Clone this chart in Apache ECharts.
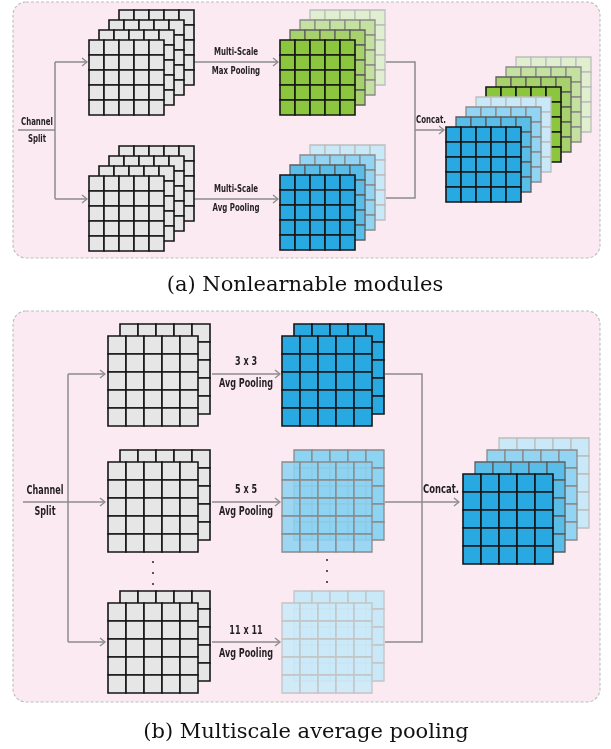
<!DOCTYPE html>
<html><head><meta charset="utf-8">
<script src="https://cdn.jsdelivr.net/npm/echarts@6/dist/echarts.min.js"></script>
<style>html,body{margin:0;padding:0;background:#fff}#c{width:611px;height:749px}</style>
</head><body><div id="c"></div>
<script>
// ---------------- data: texts and structure ----------------
const captions = ['(a) Nonlearnable modules', '(b) Multiscale average pooling'];
const splitLabel = ['Channel', 'Split'];
const concatLabel = 'Concat.';
const opLabelsA = [['Multi-Scale', 'Max Pooling'], ['Multi-Scale', 'Avg Pooling']];
const opLabelsB = [['3 x 3', 'Avg Pooling'], ['5 x 5', 'Avg Pooling'], ['11 x 11', 'Avg Pooling']];
const gridCells = 5;
// layers of each feature-map stack, front to back
const inputLayersA = ['gray', 'gray', 'gray', 'gray'];
const maxPoolLayersA = ['green1', 'green2', 'green3', 'green4'];
const avgPoolLayersA = ['blue1', 'blue2', 'blue3', 'blue4'];
const concatLayersA = avgPoolLayersA.concat(maxPoolLayersA);
const inputLayersB = ['gray', 'gray'];
const poolLayersB = [['blue1', 'blue1'], ['midF', 'mid'], ['paleF', 'pale']];
const concatLayersB = ['blue1', 'blue2', 'blue3', 'blue4'];

// ---------------- styles ----------------
const STY = {
  gray:   { fill: '#e6e6e6', stroke: '#161616', lw: 1.6 },
  green1: { fill: '#8cc63f', stroke: '#161616', lw: 1.6 },
  green2: { fill: '#a7d16c', stroke: '#5e5e5e', lw: 1.3 },
  green3: { fill: '#c5e1a2', stroke: '#8a8a8a', lw: 1.3 },
  green4: { fill: '#e1efd1', stroke: '#bdbdbd', lw: 1.3 },
  blue1:  { fill: '#28a9e1', stroke: '#161616', lw: 1.6 },
  blue2:  { fill: '#5abde8', stroke: '#5e5e5e', lw: 1.3 },
  blue3:  { fill: '#92d4f1', stroke: '#8a8a8a', lw: 1.3 },
  blue4:  { fill: '#c9e9f8', stroke: '#bdbdbd', lw: 1.3 },
  mid:    { fill: '#8ed3f1', stroke: '#8a8a8a', lw: 1.3 },
  midF:   { fill: 'rgba(142,211,241,0.88)', stroke: '#8a8a8a', lw: 1.3 },
  pale:   { fill: '#c9e9f8', stroke: '#c4c4c4', lw: 1.3 },
  paleF:  { fill: 'rgba(201,233,248,0.88)', stroke: '#c4c4c4', lw: 1.3 }
};
const LINE = '#8c8c8c';
const LABEL_FONT = "'Liberation Sans Narrow','DejaVu Sans Condensed',sans-serif";
const LABEL_SCALE_X = 0.78;
const CAPTION_FONT = "'DejaVu Serif',serif";

// ---------------- layout ----------------
const LAY = {
  panels: [[13, 2, 587, 256], [13, 311, 587, 391]],
  A: { cell: 15, off: 10, inputs: [[89, 40], [89, 176]], pools: [[280, 40], [280, 175]], concat: [446, 127] },
  B: { cell: 18, off: 12, inputs: [[108, 336], [108, 462], [108, 603]], pools: [[282, 336], [282, 462], [282, 603]], concat: [463, 474] },
  connectors: [
    // panel A
    { pts: [[55, 62], [55, 199]] },
    { pts: [[18, 130], [55, 130]] },
    { pts: [[55, 62], [87, 62]], arrow: true },
    { pts: [[55, 199], [87, 199]], arrow: true },
    { pts: [[194, 62], [278, 62]], arrow: true },
    { pts: [[194, 199], [278, 199]], arrow: true },
    { pts: [[386, 62], [415, 62], [415, 198], [386, 198]] },
    { pts: [[415, 130], [444, 130]], arrow: true },
    // panel B
    { pts: [[68, 374], [68, 642]] },
    { pts: [[68, 374], [105, 374]], arrow: true },
    { pts: [[23, 502], [105, 502]], arrow: true },
    { pts: [[68, 642], [105, 642]], arrow: true },
    { pts: [[212, 374], [280, 374]], arrow: true },
    { pts: [[212, 502], [280, 502]], arrow: true },
    { pts: [[212, 642], [280, 642]], arrow: true },
    { pts: [[385, 374], [422, 374], [422, 642], [385, 642]] },
    { pts: [[385, 502], [459, 502]], arrow: true }
  ],
  dots: [[153, 562], [153, 573], [153, 584], [327, 560], [327, 571], [327, 582]],
  textA: { split: [[37, 122], [37, 139]], ops: [[[236, 52], [236, 71]], [[236, 189], [236, 208]]], concat: [431, 120], size: 10 },
  textB: { split: [[45, 491], [45, 512]], ops: [[[246, 362], [246, 384]], [[246, 490], [246, 512]], [[246, 631], [246, 654]]], concat: [441, 490], size: 11.5 },
  captions: [[305, 286], [306, 733]], captionSize: 21
};

// ---------------- build marks ----------------
const layerList = [];
function addStack(origin, names, cell, off) {
  for (let k = names.length - 1; k >= 0; k--) {
    layerList.push({ x: origin[0] + k * off, y: origin[1] - k * off, cell: cell, style: names[k] });
  }
}
LAY.A.inputs.forEach(o => addStack(o, inputLayersA, LAY.A.cell, LAY.A.off));
addStack(LAY.A.pools[0], maxPoolLayersA, LAY.A.cell, LAY.A.off);
addStack(LAY.A.pools[1], avgPoolLayersA, LAY.A.cell, LAY.A.off);
addStack(LAY.A.concat, concatLayersA, LAY.A.cell, LAY.A.off);
LAY.B.inputs.forEach(o => addStack(o, inputLayersB, LAY.B.cell, LAY.B.off));
LAY.B.pools.forEach((o, i) => addStack(o, poolLayersB[i], LAY.B.cell, LAY.B.off));
addStack(LAY.B.concat, concatLayersB, LAY.B.cell, LAY.B.off);

const textList = [];
function addText(pos, str, size, font, weight, color, sx) {
  textList.push({ x: pos[0], y: pos[1], text: str, size: size, font: font, weight: weight, color: color, sx: sx });
}
[['A', opLabelsA], ['B', opLabelsB]].forEach(([p, ops]) => {
  const T = LAY['text' + p];
  const lab = (pos, s, size) => addText(pos, s, size || T.size, LABEL_FONT, 'bold', '#231f20', LABEL_SCALE_X);
  lab(T.split[0], splitLabel[0]);
  lab(T.split[1], splitLabel[1]);
  ops.forEach((pair, i) => { lab(T.ops[i][0], pair[0]); lab(T.ops[i][1], pair[1]); });
  lab(T.concat, concatLabel, T.size + (p === 'B' ? 0.5 : 0));
});
captions.forEach((c, i) => addText(LAY.captions[i], c, LAY.captionSize, CAPTION_FONT, 'normal', '#111', 1));

// ---------------- render functions ----------------
function renderPanel(params, api) {
  const p = api.coord([api.value(0), api.value(1)]);
  const s = api.size([api.value(2), api.value(3)]);
  return { type: 'rect', shape: { x: p[0], y: p[1], width: s[0], height: s[1], r: 13 },
    style: { fill: '#fbeaf2', stroke: '#bdbdbd', lineWidth: 1.1, lineDash: [3, 2] } };
}
function renderLayer(params, api) {
  const st = STY[layerList[params.dataIndex].style];
  const p = api.coord([api.value(0), api.value(1)]);
  const cs = api.size([api.value(2), api.value(2)]);
  const children = [];
  for (let r = 0; r < gridCells; r++) {
    for (let c = 0; c < gridCells; c++) {
      children.push({ type: 'rect',
        shape: { x: p[0] + c * cs[0], y: p[1] + r * cs[1], width: cs[0], height: cs[1] },
        style: { fill: st.fill, stroke: st.stroke, lineWidth: st.lw } });
    }
  }
  return { type: 'group', children: children };
}
function renderConnector(params, api) {
  const con = LAY.connectors[params.dataIndex];
  const pts = con.pts.map(q => api.coord(q));
  const children = [{ type: 'polyline', shape: { points: pts }, style: { stroke: LINE, lineWidth: 1.5, fill: null } }];
  if (con.arrow) {
    const t = pts[pts.length - 1];
    children.push({ type: 'polyline', shape: { points: [[t[0] - 5, t[1] - 4], [t[0], t[1]], [t[0] - 5, t[1] + 4]] },
      style: { stroke: LINE, lineWidth: 1.3, fill: null } });
  }
  return { type: 'group', children: children };
}
function renderDot(params, api) {
  const p = api.coord([api.value(0), api.value(1)]);
  return { type: 'circle', shape: { cx: p[0], cy: p[1], r: 1 }, style: { fill: '#222' } };
}
function renderText(params, api) {
  const t = textList[params.dataIndex];
  const p = api.coord([api.value(0), api.value(1)]);
  return { type: 'text', x: p[0], y: p[1], scaleX: t.sx,
    style: { text: t.text, fill: t.color, align: 'center', verticalAlign: 'middle',
      font: t.weight + ' ' + t.size + 'px ' + t.font } };
}

const chart = echarts.init(document.getElementById('c'), null, { renderer: 'canvas' });
chart.setOption({
  backgroundColor: '#ffffff',
  animation: false,
  grid: { left: 0, right: 0, top: 0, bottom: 0 },
  xAxis: { type: 'value', min: 0, max: 611, show: false },
  yAxis: { type: 'value', min: 0, max: 749, inverse: true, show: false },
  series: [
    { type: 'custom', name: 'panels', clip: false, z: 1, renderItem: renderPanel, data: LAY.panels },
    { type: 'custom', name: 'connectors', clip: false, z: 2, renderItem: renderConnector,
      data: LAY.connectors.map(c => c.pts[0]) },
    { type: 'custom', name: 'featureMaps', clip: false, z: 3, renderItem: renderLayer,
      data: layerList.map(l => [l.x, l.y, l.cell]) },
    { type: 'custom', name: 'dots', clip: false, z: 4, renderItem: renderDot, data: LAY.dots },
    { type: 'custom', name: 'labels', clip: false, z: 5, renderItem: renderText,
      data: textList.map(t => [t.x, t.y]) }
  ]
});
</script>
</body></html>
